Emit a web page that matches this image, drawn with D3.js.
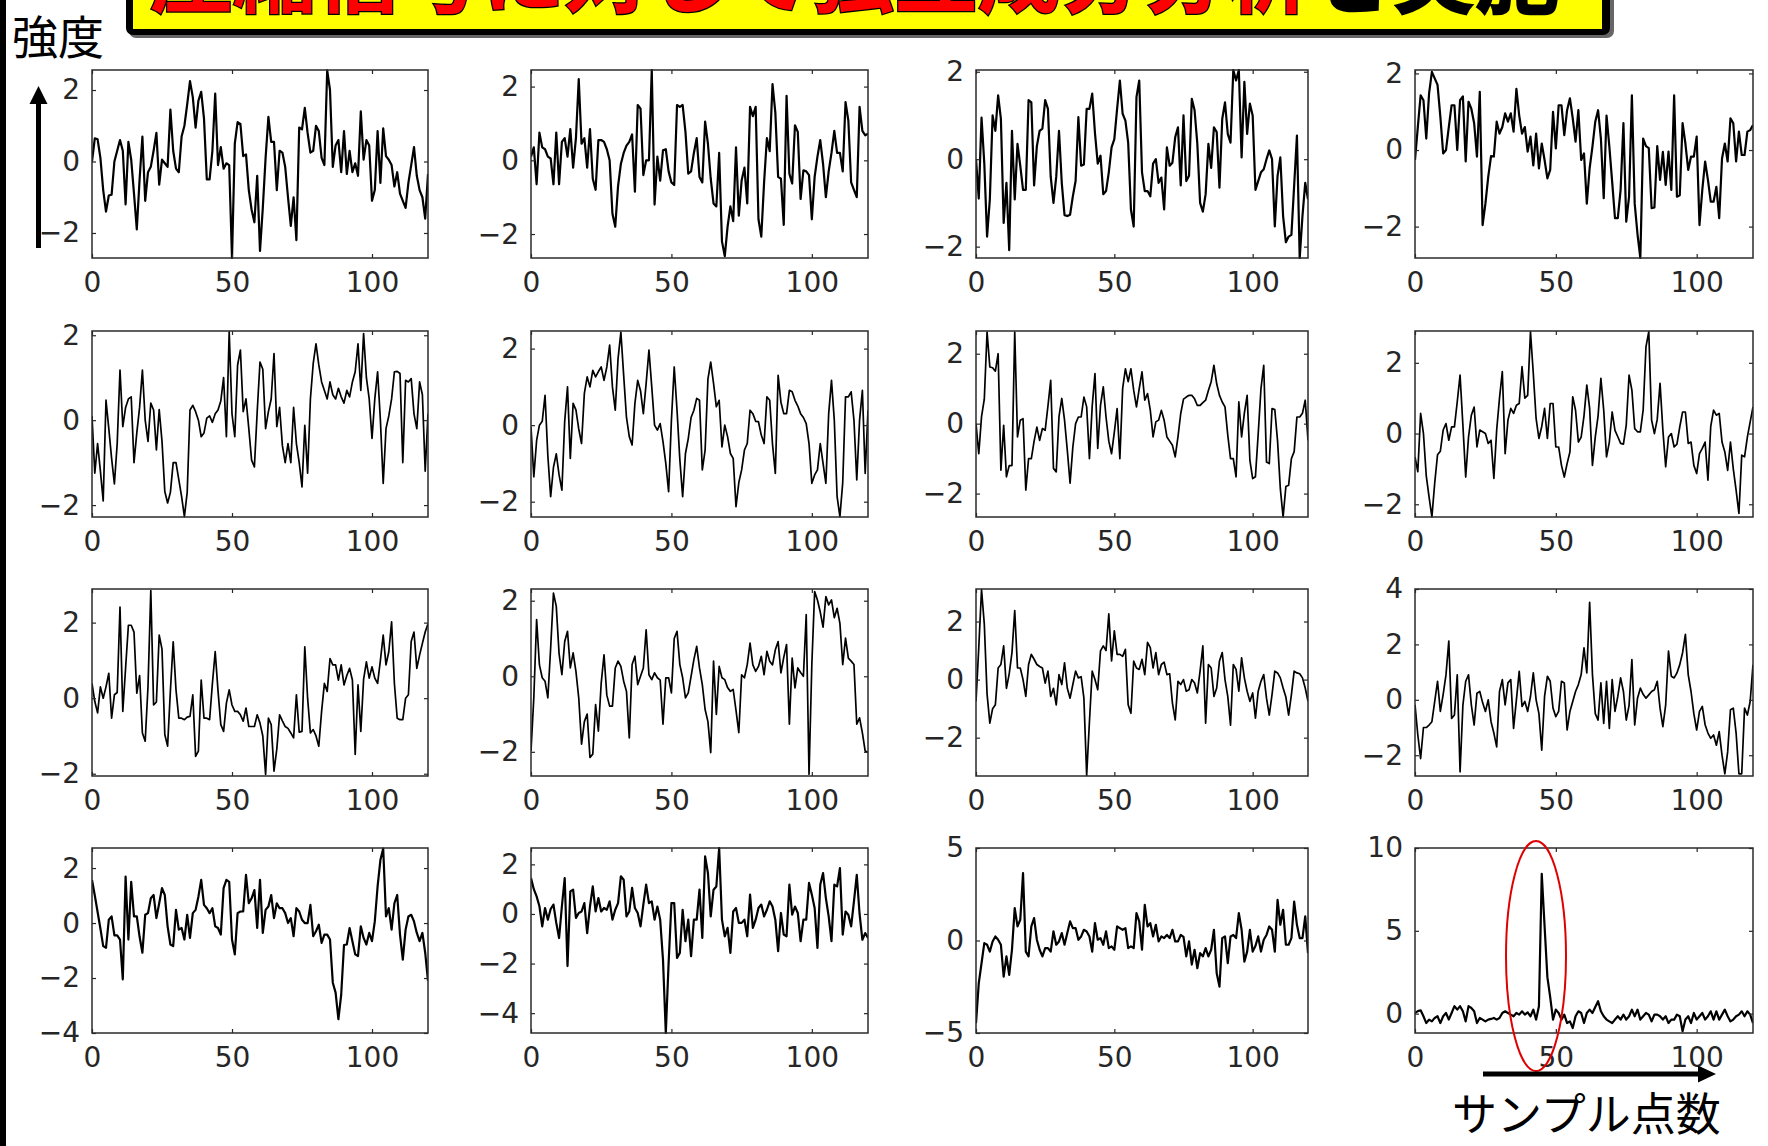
<!DOCTYPE html>
<html lang="ja">
<head>
<meta charset="UTF-8" />
<title>圧縮信号に対して独立成分分析を実施</title>
<style>
  body { margin: 0; background: #fff; }
  svg { display: block; }
  .tick text { font-family: "DejaVu Sans", sans-serif; font-size: 28px; fill: #262626; }
  .tick line { stroke: #262626; stroke-width: 1.2; }
  .frame { fill: none; stroke: #2b2b2b; stroke-width: 1.5; }
  .trace { fill: none; stroke: #000; stroke-linejoin: round; }
  .jp { font-family: "Noto Sans CJK JP", sans-serif; }
</style>
<script src="https://d3js.org/d3.v7.min.js"></script>
</head>
<body>
<script>
// ---- data (sample 0..120 per panel) ----
const signal01 = [
  0.0, 0.65, 0.62, 0.1, -0.8, -1.4, -0.95, -0.93, 0.0, 0.3,
  0.6, 0.3, -1.2, 0.55, 0.05, -0.9, -1.9, -0.5, 0.7, -1.1,
  -0.3, -0.15, 0.3, 0.8, -0.65, 0.05, -0.05, -0.15, 1.45, 0.3,
  -0.2, -0.3, 0.7, 1.0, 1.6, 2.25, 1.8, 0.95, 1.7, 1.95,
  1.2, -0.5, -0.5, 0.3, 1.9, -0.1, 0.4, -0.2, -0.05, -0.1,
  -2.7, 0.5, 1.1, 1.05, 0.15, 0.2, -0.8, -1.35, -1.7, -0.4,
  -2.5, -1.3, 0.1, 1.25, 0.55, 0.55, -0.8, 0.3, 0.25, -0.15,
  -1.0, -1.8, -1.0, -2.2, 0.95, 0.9, 1.5, 0.8, 0.25, 0.3,
  1.0, 0.85, 0.1, -0.1, 2.55, 2.0, -0.15, 0.45, 0.6, -0.3,
  0.85, -0.35, 0.3, -0.3, -0.05, -0.4, 1.4, 0.05, 0.6, 0.45,
  -1.1, -0.8, 0.85, -0.6, 0.93, 0.15, 0.05, -0.1, -0.7, -0.3,
  -0.9, -1.1, -1.3, -0.6, -0.1, 0.4, -0.4, -0.8, -1.0, -1.6,
  -0.35];
const signal02 = [
  0.1, 0.35, -0.65, 0.75, 0.35, 0.3, 0.1, 0.05, -0.65, 0.75,
  -0.65, 0.5, 0.6, 0.1, 0.85, -0.2, 0.6, 2.2, 0.45, 0.6,
  -0.2, 0.85, -0.5, -0.8, 0.55, 0.55, 0.5, 0.3, 0.0, -1.45,
  -1.8, -0.7, -0.1, 0.2, 0.4, 0.5, 0.7, -0.85, 1.5, 1.4,
  -0.4, 0.0, 0.0, 2.45, -1.2, 0.1, -0.55, 0.27, 0.3, -0.3,
  -0.6, -0.67, 1.5, 1.45, 1.5, 0.77, -0.36, -0.3, 0.2, 0.6,
  -0.45, -0.6, 1.05, 0.45, -0.5, -1.17, -1.25, 0.2, -2.2, -2.6,
  -1.8, -1.25, -1.65, 0.35, -1.5, -0.55, -0.2, -1.17, 1.45, 1.2,
  1.45, -1.6, -2.07, -0.6, 0.6, 0.25, 2.07, 1.3, -0.45, -0.5,
  -1.75, 1.75, -0.36, -0.63, 0.95, 0.77, -1.05, -0.27, -0.3, -0.4,
  -1.6, -0.45, 0.1, 0.55, -0.1, -1.0, -0.3, 0.2, 0.8, 0.2,
  0.2, -0.3, 1.58, 1.08, -0.6, -0.8, -1.0, 1.45, 0.8, 0.68,
  0.72];
const signal03 = [
  0.0, -0.9, 0.95, -0.1, -1.77, -0.92, 1.0, 0.65, 1.46, 0.92,
  -1.46, -0.54, -2.08, 0.65, -0.92, 0.35, -0.15, -0.7, -0.7, 1.35,
  1.3, -0.6, 0.3, 0.65, 0.7, 1.35, 1.15, -0.4, -1.0, -0.4,
  0.65, -0.54, -1.28, -1.3, -1.27, -0.85, -0.5, 0.96, -0.15, -0.12,
  1.15, 1.15, 1.5, 0.6, -0.1, 0.08, -0.8, -0.73, -0.3, 0.27,
  0.46, 1.15, 1.8, 1.04, 0.88, 0.38, -1.15, -1.54, 1.42, 1.8,
  -0.3, -0.73, -0.73, -0.85, -0.1, 0.0, -0.54, -0.42, -1.15, 0.27,
  -0.15, -0.08, 0.5, 0.73, -0.6, 1.0, -0.5, -0.38, 1.38, 1.12,
  0.35, -1.0, -1.2, -0.8, 0.35, -0.2, 0.73, 0.62, -0.65, 0.92,
  1.3, 0.58, 0.38, 2.04, 1.8, 2.04, 0.04, 1.77, 0.58, 1.27,
  1.0, -0.7, -0.5, -0.3, -0.23, 0.0, 0.2, 0.0, -1.54, -0.38,
  0.04, -1.3, -1.9, -1.77, -1.73, -0.6, 0.54, -2.26, -1.3, -0.54,
  -0.92];
const signal04 = [
  -0.26, 0.6, 1.43, 1.3, 0.3, 1.48, 2.04, 1.87, 1.7, 0.87,
  -0.09, 0.0, 0.6, 1.17, 1.17, 0.0, 1.3, 1.4, -0.3, 1.26,
  1.08, 0.7, -0.17, 1.52, -1.96, -1.4, -0.7, -0.16, -0.17, 0.74,
  0.43, 0.6, 0.96, 0.74, 0.96, 0.48, 1.6, 0.9, 0.43, 0.6,
  -0.04, 0.35, -0.4, 0.43, -0.48, 0.17, -0.26, -0.74, -0.52, 1.0,
  0.04, 1.17, 1.17, 0.39, 1.04, 1.35, 0.83, 0.22, 1.04, -0.26,
  -0.09, -1.4, -0.48, 0.09, 0.74, 1.04, 0.3, -1.26, 0.9, 0.09,
  -0.83, -1.78, -1.78, -1.04, 0.7, -1.87, -1.22, 1.43, -1.4, -2.2,
  -2.82, 0.3, 0.1, 0.05, -1.52, -1.5, 0.1, -0.78, -0.05, -0.91,
  -0.04, -1.04, 1.43, -1.22, -1.18, 0.7, 0.17, -0.52, -0.17, -0.17,
  0.35, -1.96, -1.04, -0.3, -0.78, -1.35, -1.35, -0.96, -1.78, -0.22,
  0.17, -0.3, 0.83, 0.7, -0.3, 0.48, -0.13, -0.13, 0.48, 0.52,
  0.65];
const signal05 = [
  0.1, -1.25, -0.55, -1.2, -1.9, 0.47, -0.2, -0.9, -1.5, -0.55,
  1.18, -0.15, 0.3, 0.5, 0.55, -1.0, -0.3, 0.3, 1.18, 0.0,
  -0.5, 0.4, 0.24, -0.7, 0.25, -0.5, -1.68, -1.95, -1.7, -1.0,
  -1.0, -1.4, -1.8, -2.27, -1.7, 0.24, 0.35, 0.2, 0.0, -0.39,
  -0.3, 0.05, 0.1, -0.05, 0.15, 0.24, 0.45, 1.0, -0.39, 2.08,
  0.15, -0.39, 1.3, 1.65, 0.2, 0.5, -0.2, -0.94, -1.1, 0.2,
  1.37, 1.2, -0.2, 0.2, 0.5, 1.57, -0.15, 0.3, -0.6, -1.0,
  -0.55, -1.0, 0.3, -0.55, -1.0, -1.57, -0.12, -1.25, 0.5, 1.33,
  1.8, 1.3, 0.9, 0.7, 0.5, 0.9, 0.6, 0.5, 0.75, 0.55,
  0.4, 0.7, 0.55, 0.9, 1.14, 1.8, 0.7, 2.04, 1.0, 0.5,
  -0.43, 0.5, 1.14, 0.0, -1.49, -0.2, 0.1, 0.5, 1.14, 1.15,
  1.1, -1.0, 0.94, 0.9, 0.98, 0.15, -0.2, 0.9, 0.6, -1.2,
  0.15];
const signal06 = [
  -0.05, -1.35, -0.4, 0.0, 0.1, 0.78, -0.8, -1.87, -1.1, -0.75,
  -1.3, -1.7, 0.1, 1.0, -0.87, 0.57, 0.4, -0.1, -0.48, 0.83,
  1.26, 1.0, 1.43, 1.26, 1.4, 1.52, 1.17, 1.52, 2.09, 1.0,
  0.39, 1.74, 2.43, 1.3, 0.2, -0.3, -0.52, 0.57, 1.17, 0.9,
  0.3, 1.09, 1.96, 1.0, 0.0, -0.13, 0.04, -0.43, -1.0, -1.74,
  0.13, 1.52, 0.39, -0.9, -1.87, -0.74, -0.35, 0.2, 0.39, 0.7,
  0.65, -1.17, -0.65, 1.2, 1.65, 1.09, 0.48, 0.65, -0.57, 0.0,
  -0.3, -0.74, -0.87, -2.13, -1.5, -1.17, -0.65, -0.48, 0.39, 0.3,
  0.1, 0.09, -0.26, -0.48, 0.74, 0.65, -0.5, -1.26, 1.3, 0.6,
  0.3, 0.3, 0.91, 0.87, 0.65, 0.5, 0.3, 0.2, 0.04, -0.48,
  -1.52, -1.3, -1.17, -0.48, -1.0, -1.52, 0.3, 1.17, 0.13, -1.87,
  -2.39, -1.5, 0.74, 0.74, 0.87, 0.13, -1.43, 0.13, 0.91, -1.26,
  0.39];
const signal07 = [
  0.0, -0.86, 0.2, 0.7, 2.62, 1.62, 1.6, 1.5, 2.0, -1.33,
  -0.05, -1.52, -1.2, -1.2, 2.62, -0.38, 0.1, 0.14, -1.9, -1.0,
  -1.0, -0.5, -0.1, -0.48, -0.14, -0.19, 0.5, 1.24, -1.28, -1.38,
  0.2, 0.72, 0.1, -0.76, -1.7, -0.67, 0.0, 0.19, 0.19, 0.76,
  0.48, -1.0, 0.5, 1.43, -0.71, 0.52, 1.05, 0.19, -0.5, -0.86,
  -0.24, 0.43, -1.0, 1.0, 1.57, 1.2, 1.57, 0.95, 0.48, 1.0,
  1.48, 0.67, 0.86, 0.38, -0.38, 0.05, 0.1, 0.38, 0.1, -0.38,
  -0.5, -0.62, -0.95, -0.38, 0.29, 0.7, 0.76, 0.81, 0.81, 0.71,
  0.52, 0.52, 0.6, 0.67, 0.95, 1.2, 1.67, 1.14, 0.81, 0.62,
  0.48, -0.33, -1.0, -1.0, -1.52, 0.62, -0.38, 0.3, 0.81, -1.05,
  -1.57, -1.52, -0.29, 1.0, 1.67, -1.1, -1.14, 0.43, 0.4, -0.5,
  -1.86, -2.67, -1.8, -1.76, -1.0, -0.8, 0.19, 0.19, 0.3, 0.67,
  -0.48];
const signal08 = [
  -0.66, -1.08, 0.57, 0.0, -1.2, -1.8, -2.36, -1.4, -0.6, -0.5,
  0.1, 0.28, -0.19, 0.19, 0.19, 0.9, 1.65, 0.24, -1.23, -0.1,
  0.52, 0.75, -0.38, 0.1, 0.05, 0.0, -0.28, -0.19, -1.27, 0.1,
  1.0, 1.75, -0.57, 0.38, 0.71, 0.57, 0.8, 0.85, 1.89, 1.0,
  1.08, 2.88, 1.7, 0.42, -0.14, 0.2, 0.71, -0.14, 0.85, 0.85,
  -0.38, -0.38, -0.9, -1.23, -0.85, -0.52, 1.04, 0.66, -0.24, -0.1,
  0.5, 1.37, 0.71, -0.9, -0.1, 0.5, 1.56, 0.66, -0.66, -0.24,
  0.61, 0.09, -0.09, -0.28, -0.3, 0.24, 1.65, 1.23, 0.14, 0.05,
  0.05, 0.66, 2.45, 2.88, 0.38, 0.0, 0.4, 1.42, 0.1, -0.94,
  -0.1, 0.0, -0.38, -0.3, 0.19, 0.61, 0.61, -0.28, -0.24, -0.9,
  -1.13, -0.57, -0.42, -0.24, -1.32, 0.2, 0.66, 0.52, 0.57, -0.24,
  -0.52, -1.04, -0.24, -1.0, -1.6, -2.26, -0.61, -0.66, -0.1, 0.33,
  0.75];
const signal09 = [
  0.39, -0.09, -0.39, 0.3, 0.0, 0.3, 0.66, -0.53, 0.09, 0.15,
  2.41, -0.35, 0.8, 1.93, 1.93, 1.75, 0.13, 0.6, -0.92, -1.14,
  0.31, 2.85, -0.18, -0.1, 1.67, 1.3, -0.96, -1.27, 0.2, 1.49,
  0.22, -0.53, -0.53, -0.57, -0.5, -0.48, 0.09, -1.54, -1.4, 0.48,
  -0.53, -0.53, -0.57, 0.39, 1.23, 0.2, -0.7, -0.88, -0.13, 0.22,
  -0.18, -0.35, -0.35, -0.44, -0.61, -0.26, -0.75, -0.75, -0.75, -0.44,
  -0.66, -1.0, -2.02, -0.53, -0.7, -1.93, -1.35, -0.44, -0.6, -0.75,
  -0.8, -0.92, -1.05, 0.09, -0.9, -0.88, 1.36, 0.0, -0.92, -0.83,
  -1.0, -1.27, -0.35, 0.39, 0.18, 1.05, 0.88, 0.88, 0.48, 0.88,
  0.35, 0.6, 0.79, 0.48, -1.49, 0.35, -0.88, 0.5, 0.96, 0.53,
  0.83, 0.53, 0.39, 1.0, 1.67, 0.88, 1.23, 2.02, 0.39, -0.53,
  -0.57, -0.57, 0.0, 0.09, 1.5, 1.75, 0.79, 1.14, 1.45, 1.75,
  1.97];
const signal10 = [
  -1.98, -0.57, 1.5, 0.3, -0.04, -0.13, -0.57, 0.75, 2.2, 1.85,
  0.6, 0.04, 0.92, 1.19, 0.22, 0.62, 0.13, -0.57, -1.8, -1.2,
  -1.0, -2.15, -2.06, -0.75, -1.45, -0.18, 0.57, -0.5, -0.79, -0.79,
  0.22, 0.4, 0.26, -0.13, -0.4, -1.63, 0.31, 0.53, -0.22, 0.0,
  0.22, 1.23, 0.04, -0.09, 0.09, -0.04, -0.1, -1.27, -0.04, -0.04,
  -0.44, 1.0, 1.19, 0.31, -0.04, -0.57, -0.44, 0.0, 0.44, 0.79,
  0.22, -0.22, -0.88, -1.2, -2.02, 0.4, -1.01, 0.26, -0.04, -0.09,
  -0.3, -0.4, -0.35, -0.9, -1.49, 0.04, -0.04, 0.31, 0.88, 0.3,
  0.13, 0.26, 0.53, 0.04, 0.66, 0.4, 0.3, 0.7, 0.92, 0.09,
  0.5, 0.84, -1.27, 0.48, -0.31, 0.22, 0.1, 0.0, 1.63, -2.59,
  0.31, 2.24, 2.02, 1.7, 1.3, 2.11, 1.89, 2.02, 1.55, 1.8,
  1.4, 0.31, 1.01, 0.48, 0.4, 0.31, -1.27, -1.1, -1.5, -1.98,
  -2.02];
const signal11 = [
  -0.75, 1.1, 3.1, 1.91, -0.5, -1.5, -1.0, -0.87, 0.4, 0.52,
  1.16, -0.3, 0.2, 0.93, 2.38, 0.4, 0.4, 0.0, -0.58, 0.52,
  0.87, 0.7, 0.52, 0.45, 0.4, -0.12, 0.29, -0.58, -0.3, -0.87,
  0.17, -0.17, 0.58, -0.3, -0.64, -0.17, 0.29, 0.06, 0.1, -0.64,
  -3.3, -1.45, 0.29, 0.0, -0.35, 0.99, 1.16, 1.0, 2.26, 0.64,
  1.68, 0.87, 0.87, 0.8, 1.04, -0.87, -1.16, 0.64, 0.4, 0.35,
  0.7, 0.17, 1.28, 1.1, 0.4, 0.93, 0.17, 0.52, 0.6, 0.17,
  0.2, -0.81, -1.39, -0.06, -0.17, 0.0, -0.4, -0.35, 0.0, -0.12,
  -0.46, 0.3, 1.16, -1.5, 0.52, 0.4, -0.58, -0.29, 0.64, 0.93,
  0.0, -0.58, -1.57, 0.52, 0.35, -0.4, 0.75, 0.06, -0.4, -0.75,
  -0.46, -1.33, -0.4, -0.06, 0.17, -0.64, -1.22, -0.52, 0.29, 0.23,
  0.06, -0.29, -0.6, -1.22, -0.52, 0.29, 0.23, 0.2, 0.06, -0.29,
  -0.75];
const signal12 = [
  -0.18, -1.27, -2.12, -1.0, -1.0, -0.91, -0.79, -0.06, 0.67, -0.42,
  0.2, 0.9, 2.12, -0.67, -0.55, 0.9, -2.6, -0.2, 0.67, 0.9,
  -0.18, -0.91, 0.24, 0.3, -0.1, -0.42, 0.0, -0.79, -1.2, -1.7,
  0.3, 0.73, -0.18, 0.61, 0.73, -1.03, 0.0, 1.03, -0.24, -0.06,
  -0.42, 0.12, 0.97, 0.0, -0.5, -1.82, 0.12, 0.85, 0.67, -0.3,
  -0.61, -0.42, 0.67, 0.61, -1.09, -0.42, -0.06, 0.3, 0.55, 0.91,
  1.88, 0.97, 3.52, 0.91, -0.5, -0.73, 0.61, -0.85, 0.67, -1.03,
  0.73, -0.42, 0.12, 0.79, 0.3, -0.73, -0.2, 1.45, -0.91, 0.06,
  0.42, 0.2, 0.06, 0.18, 0.3, 0.36, 0.67, -0.3, -0.97, -0.18,
  1.76, 0.85, 0.79, 0.97, 1.27, 1.7, 2.36, 0.91, 0.3, -0.5,
  -1.09, -0.42, -0.24, -0.9, -1.2, -1.39, -1.27, -1.64, -1.15, -2.0,
  -2.67, -1.88, -0.36, -0.3, -1.2, -2.67, -2.67, -0.3, -0.55, -0.06,
  1.27];
const signal13 = [
  1.57, 1.0, 0.4, -0.2, -0.84, -0.9, 0.12, 0.24, -0.45, -0.45,
  -0.6, -2.05, 1.69, -0.6, 1.5, 0.24, 0.24, -0.5, -1.08, 0.3,
  0.36, 0.9, 1.02, 0.18, 0.72, 1.27, 1.02, -0.12, -0.78, -0.84,
  0.48, -0.24, -0.18, -0.6, 0.3, -0.54, 0.36, 0.48, 0.96, 1.57,
  0.66, 0.54, 0.36, 0.54, -0.12, -0.18, -0.42, 1.27, 1.57, 1.5,
  -0.6, -1.14, 0.36, 0.42, 0.42, 1.75, 0.72, 0.9, 1.2, -0.18,
  1.57, -0.36, 0.48, 0.6, 1.02, 0.18, 0.72, 0.54, 0.54, 0.36,
  0.0, 0.18, -0.48, 0.54, 0.42, 0.12, 0.0, 0.0, 0.66, -0.48,
  -0.3, -0.06, -0.72, -0.42, -0.42, -0.6, -2.17, -2.53, -3.5, -2.6,
  -0.8, -0.78, -0.18, -0.66, -1.14, -1.2, -0.12, -0.54, -0.78, -0.36,
  -0.66, 0.06, 1.33, 2.29, 2.71, 0.24, 0.54, -0.24, 0.72, 1.02,
  -0.42, -1.33, -0.24, 0.24, 0.3, 0.06, -0.36, -0.66, -0.36, -1.08,
  -2.1];
const signal14 = [
  1.45, 1.0, 0.71, 0.31, -0.5, 0.24, -0.23, 0.2, 0.38, -0.36,
  -0.97, 0.31, 1.45, -2.1, 0.91, 0.98, -0.16, 0.04, 0.1, 0.44,
  -0.77, 0.3, 1.11, 0.1, 0.64, 0.1, 0.24, 0.17, 0.51, -0.23,
  0.17, 0.44, 1.52, 1.38, -0.1, 0.1, 1.05, 0.24, 0.04, -0.5,
  0.38, 1.18, 0.44, 0.51, -0.23, 0.3, -0.23, -1.84, -4.8, -1.98,
  0.44, 0.44, -1.77, -1.57, 0.17, -1.1, -0.23, -1.7, -0.23, -0.23,
  0.98, -0.97, 2.32, 1.65, -0.1, 0.98, 1.11, 2.66, -0.23, -0.9,
  -0.56, -1.57, 0.1, 0.24, -0.36, -0.36, -0.23, -0.9, 0.78, -0.56,
  -0.23, 0.24, 0.38, -0.1, 0.17, 0.51, 0.3, -0.23, -1.5, 0.04,
  -0.83, -0.9, 1.18, -0.03, 0.3, 0.04, -1.1, -0.23, -0.23, 1.25,
  0.78, 0.24, -1.37, 1.18, 1.65, 0.64, -0.1, -1.1, 1.18, 1.11,
  1.85, -0.83, 0.1, -0.03, -0.5, 0.51, 1.58, 0.0, -1.04, -0.77,
  -0.97];
const signal15 = [
  -4.47, -2.3, -1.23, -0.14, -0.23, -0.6, -0.05, 0.22, 0.04, -0.23,
  -1.95, -0.86, -1.86, -0.5, 1.75, 0.76, 1.12, 3.64, -0.6, -0.86,
  0.76, 1.21, 0.04, -0.5, -0.86, -0.41, -0.41, -0.6, 0.5, -0.23,
  -0.05, 0.4, -0.23, 0.4, 1.03, 0.67, 0.67, 0.04, 0.22, 0.58,
  0.49, 0.22, -0.6, 0.94, 0.04, 0.13, -0.23, 0.49, -0.41, -0.32,
  -0.5, 0.76, 0.67, 0.58, 0.67, -0.41, -0.32, -0.41, 1.48, 1.03,
  -0.5, 1.93, 0.76, 0.94, 0.22, 0.85, -0.05, 0.22, 0.13, 0.3,
  0.13, 0.58, -0.05, -0.05, 0.3, 0.2, -0.86, -0.05, -1.3, -0.5,
  -1.5, -0.68, -0.86, -0.41, -0.86, -0.5, 0.58, -1.77, -2.49, 0.13,
  0.22, -1.23, 0.22, 0.3, 0.13, 1.48, 0.58, -1.14, -0.6, 0.58,
  -0.6, -0.3, 0.22, -0.6, 0.04, 0.3, 0.76, 0.58, -0.6, 2.2,
  0.85, 1.66, -0.23, -0.23, 0.13, 2.1, 0.85, 0.13, 0.13, 1.3,
  -0.68];
const signal16 = [
  0.04, 0.15, 0.2, -0.16, -0.57, -0.36, -0.47, -0.26, -0.16, -0.57,
  -0.16, 0.04, -0.36, 0.04, 0.45, 0.24, 0.45, 0.14, -0.47, 0.45,
  0.34, 0.14, -0.57, -0.26, -0.36, -0.47, -0.36, -0.32, -0.26, -0.36,
  -0.26, 0.04, 0.14, 0.04, -0.06, -0.16, 0.04, -0.06, 0.14, -0.06,
  0.08, -0.16, 0.24, -0.36, 0.45, 8.44, 5.3, 2.2, 1.0, -0.36,
  0.24, 0.04, -0.36, -0.06, -0.57, -0.47, -0.87, -0.16, 0.14, 0.04,
  -0.57, 0.04, 0.24, 0.04, 0.4, 0.75, 0.14, -0.16, -0.36, -0.47,
  -0.57, -0.36, -0.16, -0.36, -0.06, -0.36, -0.16, 0.24, -0.16, 0.24,
  -0.36, -0.16, 0.04, -0.06, -0.47, -0.06, -0.06, -0.16, -0.36, -0.16,
  -0.57, -0.36, -0.36, -0.06, -0.16, -1.07, -0.36, -0.16, -0.57, 0.04,
  -0.36, -0.16, 0.04, -0.36, -0.16, 0.14, -0.36, 0.14, -0.36, -0.06,
  0.24, -0.16, -0.47, -0.36, -0.16, -0.06, 0.14, -0.16, 0.14, -0.06,
  -0.57];

const signals = [signal01, signal02, signal03, signal04,
                 signal05, signal06, signal07, signal08,
                 signal09, signal10, signal11, signal12,
                 signal13, signal14, signal15, signal16];

const yLimits = [
  [-2.70, 2.56], [-2.65, 2.45], [-2.26, 2.04], [-2.82, 2.09],
  [-2.28, 2.10], [-2.40, 2.46], [-2.67, 2.65], [-2.36, 2.90],
  [-2.06, 2.89], [-2.64, 2.31], [-3.32, 3.12], [-2.75, 4.00],
  [-4.00, 2.73], [-4.80, 2.66], [-5.00, 5.00], [-1.17, 10.0]];
const yTicks = [
  [-2, 0, 2], [-2, 0, 2], [-2, 0, 2], [-2, 0, 2],
  [-2, 0, 2], [-2, 0, 2], [-2, 0, 2], [-2, 0, 2],
  [-2, 0, 2], [-2, 0, 2], [-2, 0, 2], [-2, 0, 2, 4],
  [-4, -2, 0, 2], [-4, -2, 0, 2], [-5, 0, 5], [0, 5, 10]];
const xTicks = [0, 50, 100];
const xLimit = [0, 120];

const titleRed = "圧縮信号に対して独立成分分析";
const titleBlack = "を実施";
const yLabel = "強度";
const xLabel = "サンプル点数";

// ---- layout ----
const width = 1768, height = 1146;
const colLeft = [92, 531, 976, 1415];
const colRight = [428, 868, 1308, 1753];
const rowTop = [70, 331, 589, 848];
const rowBottom = [258, 517, 776, 1033];
const fmt = d3.format("d");

const svg = d3.select("body").append("svg")
    .attr("width", width)
    .attr("height", height);

// black edge of the slide
svg.append("rect").attr("x", 0).attr("y", 0)
    .attr("width", 6).attr("height", height).attr("fill", "#000");

// title box, cut by the top edge
const head = svg.append("g");
head.append("rect").attr("x", 129).attr("y", -30)
    .attr("width", 1485).attr("height", 68).attr("rx", 7).attr("fill", "#666");
head.append("rect").attr("x", 126).attr("y", -30)
    .attr("width", 1484).attr("height", 65).attr("rx", 7).attr("fill", "#000");
head.append("rect").attr("x", 133).attr("y", -30)
    .attr("width", 1469).attr("height", 59).attr("fill", "#ffff00");
const tt = head.append("text").attr("class", "jp")
    .attr("x", 150).attr("y", 6)
    .attr("font-size", 83).attr("font-weight", "bold")
    .attr("stroke", "#000").attr("stroke-width", 2.5)
    .attr("paint-order", "stroke");
tt.append("tspan").attr("fill", "#ff0000").text(titleRed);
tt.append("tspan").attr("fill", "#000").text(titleBlack);

// y label + arrow
svg.append("text").attr("class", "jp")
    .attr("x", 12).attr("y", 53.5)
    .attr("font-size", 46).attr("fill", "#000")
    .text(yLabel);
svg.append("line").attr("x1", 38.5).attr("x2", 38.5).attr("y1", 248).attr("y2", 100)
    .attr("stroke", "#000").attr("stroke-width", 5);
svg.append("path").attr("d", "M38.5,86 L29.5,104 L47.5,104 Z").attr("fill", "#000");

// panels
signals.forEach(function(values, k) {
    const r = Math.floor(k / 4), c = k % 4;
    const x = d3.scaleLinear().domain(xLimit).range([colLeft[c], colRight[c]]);
    const y = d3.scaleLinear().domain(yLimits[k]).range([rowBottom[r], rowTop[r]]);
    const g = svg.append("g");

    g.append("clipPath").attr("id", "clip" + k)
      .append("rect")
        .attr("x", colLeft[c]).attr("y", rowTop[r] - 1)
        .attr("width", colRight[c] - colLeft[c])
        .attr("height", rowBottom[r] - rowTop[r] + 2);

    const line = d3.line().x((d, i) => x(i)).y(d => y(d));
    g.append("path")
        .datum(values)
        .attr("class", "trace")
        .attr("clip-path", "url(#clip" + k + ")")
        .attr("stroke-width", (r === 1 || r === 2) ? 1.7 : 2.2)
        .attr("d", line);

    const gB = g.append("g").attr("transform", `translate(0,${rowBottom[r]})`)
        .call(d3.axisBottom(x).tickValues(xTicks).tickFormat(fmt)
              .tickSize(-4).tickSizeOuter(0).tickPadding(14));
    const gT = g.append("g").attr("transform", `translate(0,${rowTop[r]})`)
        .call(d3.axisTop(x).tickValues(xTicks).tickSize(-4).tickSizeOuter(0).tickFormat(""));
    const gL = g.append("g").attr("transform", `translate(${colLeft[c]},0)`)
        .call(d3.axisLeft(y).tickValues(yTicks[k]).tickFormat(fmt)
              .tickSize(-4).tickSizeOuter(0).tickPadding(12));
    const gR = g.append("g").attr("transform", `translate(${colRight[c]},0)`)
        .call(d3.axisRight(y).tickValues(yTicks[k]).tickSize(-4).tickSizeOuter(0).tickFormat(""));
    [gB, gT, gL, gR].forEach(a => a.select(".domain").remove());

    g.append("rect").attr("class", "frame")
        .attr("x", colLeft[c]).attr("y", rowTop[r])
        .attr("width", colRight[c] - colLeft[c])
        .attr("height", rowBottom[r] - rowTop[r]);
});

// highlight of the spike in the last panel
svg.append("ellipse")
    .attr("cx", 1536).attr("cy", 956).attr("rx", 30).attr("ry", 115)
    .attr("fill", "none").attr("stroke", "#e00000").attr("stroke-width", 2);

// x label + arrow
svg.append("line").attr("x1", 1483).attr("x2", 1700).attr("y1", 1074).attr("y2", 1074)
    .attr("stroke", "#000").attr("stroke-width", 5);
svg.append("path").attr("d", "M1716,1074 L1698,1065.5 L1698,1082.5 Z").attr("fill", "#000");
svg.append("text").attr("class", "jp")
    .attr("x", 1452).attr("y", 1131)
    .attr("font-size", 45).attr("fill", "#000")
    .text(xLabel);
</script>
</body>
</html>
